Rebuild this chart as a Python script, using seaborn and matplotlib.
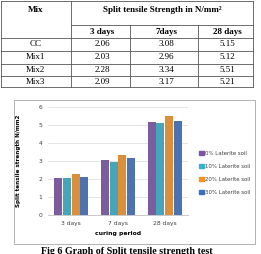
import numpy as np
import pandas as pd
import matplotlib.pyplot as plt
import seaborn as sns

# table / chart data
mixes = ["CC", "Mix1", "Mix2", "Mix3"]
soil_labels = ["0% Laterite soil", "10% Laterite soil", "20% Laterite soil", "30% Laterite soil"]
periods = ["3 days", "7 days", "28 days"]
table_heads = ["3 days", "7days", "28 days"]
strength_3d = [2.06, 2.03, 2.28, 2.09]
strength_7d = [3.08, 2.96, 3.34, 3.17]
strength_28d = [5.15, 5.12, 5.51, 5.21]
colors = ["#7a52a8", "#33b1cc", "#f7901e", "#3b70c0"]

W, H = 261, 254
fig = plt.figure(figsize=(W / 100, H / 100), dpi=100)

# overlay axes in pixel coords for the table and the frame
bg = fig.add_axes([0, 0, 1, 1])
bg.set_xlim(0, W)
bg.set_ylim(H, 0)
bg.axis("off")

lc = "#555555"
lw = 0.6
serif = "Liberation Serif"
x_l, x_mix, x_c1, x_c2, x_r = 0.5, 71, 130, 198, 253
y_t, y_h, y_sub = 0.5, 25, 38
row_lines = [51, 63.5, 76, 87]

bg.plot([x_l, x_r], [y_t, y_t], color=lc, lw=lw)
bg.plot([x_l, x_l], [y_t, row_lines[-1]], color=lc, lw=lw)
bg.plot([x_r, x_r], [y_t, row_lines[-1]], color=lc, lw=lw)
bg.plot([x_mix, x_mix], [y_t, row_lines[-1]], color=lc, lw=lw)
bg.plot([x_mix, x_r], [y_h, y_h], color=lc, lw=lw)
bg.plot([x_l, x_r], [y_sub, y_sub], color=lc, lw=lw)
for y in row_lines:
    bg.plot([x_l, x_r], [y, y], color=lc, lw=lw)
for x in [x_c1, x_c2]:
    bg.plot([x, x], [y_h, row_lines[-1]], color=lc, lw=lw)

bg.text((x_l + x_mix) / 2, 10, "Mix", ha="center", va="center", family=serif,
        fontweight="bold", fontsize=6.5)
bg.text((x_mix + x_r) / 2, 10, "Split tensile Strength in N/mm²", ha="center",
        va="center", family=serif, fontweight="bold", fontsize=6.5)
col_centers = [(x_mix + x_c1) / 2 + 2, (x_c1 + x_c2) / 2 + 2, (x_c2 + x_r) / 2 + 2]
for cx, head in zip(col_centers, table_heads):
    bg.text(cx, 32, head, ha="center", va="center", family=serif, fontweight="bold", fontsize=6.5)
row_centers = [44.5, 57, 69.5, 81.5]
for i, m in enumerate(mixes):
    bg.text((x_l + x_mix) / 2, row_centers[i], m, ha="center", va="center", family=serif, fontsize=6.5)
    for cx, vals in zip(col_centers, [strength_3d, strength_7d, strength_28d]):
        bg.text(cx, row_centers[i], f"{vals[i]:.2f}", ha="center", va="center",
                family=serif, fontsize=6.5)

# chart frame
bg.add_patch(plt.Rectangle((14, 100), 241, 144, fill=False, ec="#a6a6a6", lw=0.6))
bg.text(127, 253.5, "Fig 6 Graph of Split tensile strength test", ha="center", va="baseline",
        family=serif, fontweight="bold", fontsize=7.2)

# bar chart
df = pd.DataFrame({
    "period": np.repeat(periods, len(mixes)),
    "soil": soil_labels * len(periods),
    "value": strength_3d + strength_7d + strength_28d,
})

ax = fig.add_axes([48 / W, 1 - 215 / H, 140 / W, 108 / H])
sns.barplot(data=df, x="period", y="value", hue="soil", hue_order=soil_labels,
            palette=colors, width=0.74, gap=0.08, ax=ax, legend=False, zorder=3)
ax.set_ylim(0, 6)
ax.set_yticks(range(7))
ax.grid(axis="y", color="#d9d9d9", lw=0.5, zorder=0)
for s in ["top", "right", "left"]:
    ax.spines[s].set_visible(False)
ax.spines["bottom"].set_color("#bfbfbf")
ax.spines["bottom"].set_linewidth(0.6)
ax.tick_params(length=0, labelsize=4.3, labelcolor="#404040", pad=4)
ax.set_xlabel("curing period", fontsize=4.4, fontweight="bold", labelpad=4)
ax.set_ylabel("Split tensile strength N/mm2", fontsize=4.1, fontweight="bold", labelpad=13)

handles = [plt.Rectangle((0, 0), 1, 1, color=c) for c in colors]
ax.legend(handles, soil_labels, loc="center left", bbox_to_anchor=(194 / W, 1 - 173 / H),
          bbox_transform=fig.transFigure, frameon=False, fontsize=3.9, handlelength=0.9,
          handleheight=0.9, handletextpad=0.3, labelspacing=1.45, labelcolor="#404040")

fig.savefig("out.png", dpi=100)
